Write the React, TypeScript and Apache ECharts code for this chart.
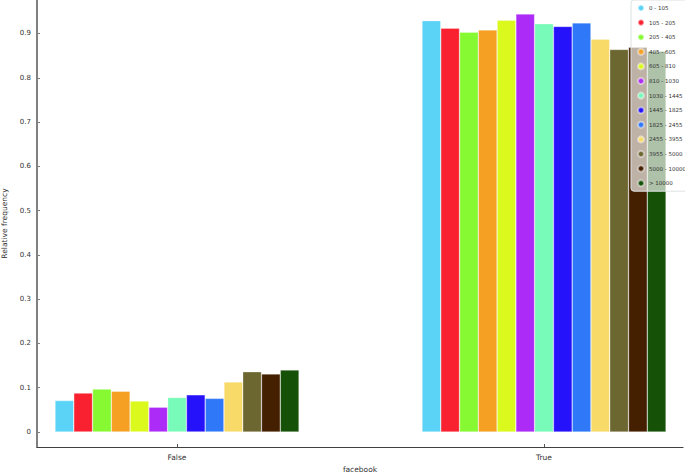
import React, { useEffect, useRef } from "react";
import * as echarts from "echarts";

const categories = ["False", "True"];
const seriesNames = [
  "0 - 105",
  "105 - 205",
  "205 - 405",
  "405 - 605",
  "605 - 810",
  "810 - 1030",
  "1030 - 1445",
  "1445 - 1825",
  "1825 - 2455",
  "2455 - 3955",
  "3955 - 5000",
  "5000 - 10000",
  "> 10000",
];
const falseValues = [0.071, 0.088, 0.097, 0.092, 0.07, 0.056, 0.078, 0.084, 0.076, 0.113, 0.136, 0.131, 0.14];
const trueValues = [0.929, 0.912, 0.903, 0.908, 0.93, 0.944, 0.922, 0.916, 0.924, 0.887, 0.864, 0.869, 0.86];
const colors = [
  "#5bd3f6",
  "#f9212f",
  "#86f932",
  "#f5a023",
  "#dcf91e",
  "#ad2bf6",
  "#78fab8",
  "#2512fb",
  "#2f78f7",
  "#f7da67",
  "#6c6630",
  "#452000",
  "#165108",
];
const yTicks = [0, 0.1, 0.2, 0.3, 0.4, 0.5, 0.6, 0.7, 0.8, 0.9];
const xTicks = [0, 1];

const FONT = "DejaVu Sans";

export default function App() {
  const ref = useRef<HTMLDivElement>(null);
  useEffect(() => {
    if (!ref.current) return;
    const chart = echarts.init(ref.current, null, { renderer: "svg" });
    const series = seriesNames.map((name, i) => ({
      name,
      type: "bar",
      barGap: "0%",
      barCategoryGap: "33.5%",
      itemStyle: {
        color: colors[i],
        borderColor: "rgba(255,255,255,0.45)",
        borderWidth: 0.6,
      },
      data: categories.map((c, ci) => [ci, ci === 0 ? falseValues[i] : trueValues[i]]),
    }));
    chart.setOption({
      animation: false,
      backgroundColor: "#ffffff",
      grid: {
        left: 37,
        right: 2,
        top: 0,
        bottom: 26,
        containLabel: false,
        outerBoundsMode: "none",
      },
      legend: {
        orient: "vertical",
        left: 631,
        top: 0,
        padding: [4, 6, 4, 6],
        icon: "circle",
        itemWidth: 6,
        itemHeight: 6,
        itemGap: 6.6,
        itemTextGap: 3,
        backgroundColor: "rgba(255,255,255,0.65)",
        borderColor: "#dde2e2",
        borderWidth: 1,
        borderRadius: 3,
        textStyle: { fontFamily: FONT, fontSize: 5.5, color: "#333" },
        data: seriesNames,
      },
      xAxis: {
        type: "value",
        min: -0.3815,
        max: 1.3787,
        name: "facebook",
        nameLocation: "middle",
        nameGap: 17,
        nameTextStyle: { fontFamily: FONT, fontSize: 7.5, color: "#333" },
        splitLine: { show: false },
        axisLine: { show: true, onZero: false, lineStyle: { color: "#404040", width: 1.2 } },
        axisTick: {
          show: true,
          inside: true,
          length: 3,
          customValues: xTicks,
          lineStyle: { color: "#555" },
        },
        axisLabel: {
          customValues: xTicks,
          formatter: (v: number) => categories[Math.round(v)] ?? "",
          fontFamily: FONT,
          fontSize: 7.5,
          color: "#333",
          margin: 6,
        },
      },
      yAxis: {
        type: "value",
        min: -0.0339,
        max: 0.9756,
        name: "Relative frequency",
        nameLocation: "middle",
        nameGap: 25,
        nameRotate: 90,
        nameTextStyle: { fontFamily: FONT, fontSize: 7.5, color: "#333" },
        splitLine: { show: false },
        axisLine: { show: true, onZero: false, lineStyle: { color: "#808080", width: 2 } },
        axisTick: {
          show: true,
          inside: true,
          length: 3,
          customValues: yTicks,
          lineStyle: { color: "#808080" },
        },
        axisLabel: {
          customValues: yTicks,
          formatter: (v: number) => (v === 0 ? "0" : v.toFixed(1)),
          fontFamily: FONT,
          fontSize: 7,
          color: "#333",
          margin: 6,
        },
      },
      series,
    });
    return () => chart.dispose();
  }, []);
  return (
    <div
      ref={ref}
      style={{ position: "absolute", left: 0, top: 0, width: 685, height: 473 }}
    />
  );
}
